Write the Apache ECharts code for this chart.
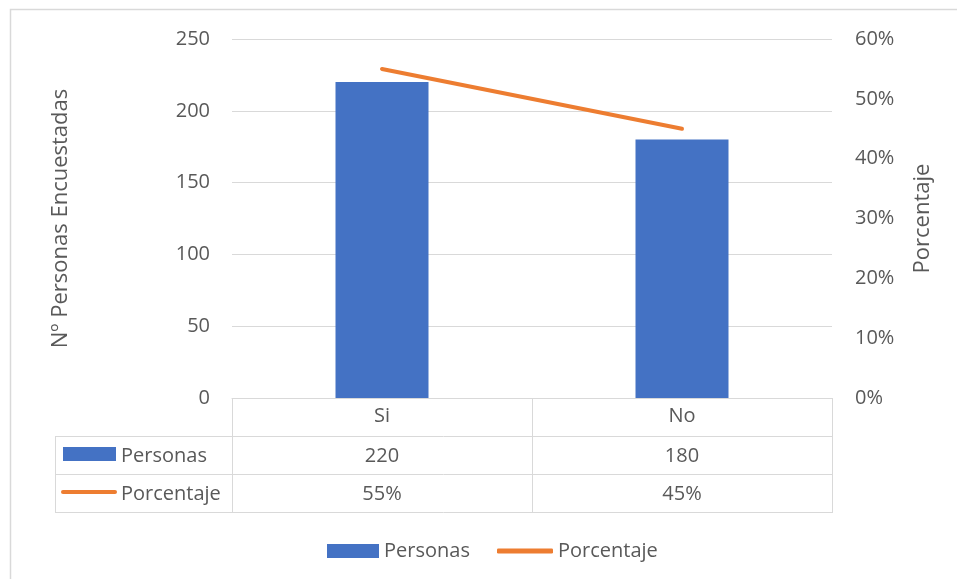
<!DOCTYPE html>
<html><head><meta charset="utf-8">
<script src="https://cdn.jsdelivr.net/npm/echarts@6/dist/echarts.min.js"></script>
<style>html,body{margin:0;padding:0;background:#fff}#c{width:957px;height:579px}</style>
</head><body><div id="c"></div>
<script>
var categories = ['Si', 'No'];
var personas = [220, 180];
var porcentaje = [0.55, 0.45];
var leftTicks = {min: 0, max: 250, interval: 50};
var rightTicks = {min: 0, max: 0.6, interval: 0.1};
var seriesNames = ['Personas', 'Porcentaje'];

var FONT = 'Open Sans';
var TXT = '#595959';
var GRID = '#d9d9d9';
var BLUE = '#4472C4';
var ORANGE = '#ED7D31';
var FS = 20;
var TFS = 22;

function pct(v){ return Math.round(v * 100) + '%'; }

var chart = echarts.init(document.getElementById('c'), null, {renderer: 'canvas'});
var gridL = 232, gridR = 832, gridT = 39, gridB = 398;
var option = {
  animation: false,
  textStyle: {fontFamily: FONT},
  grid: {left: gridL, right: 957 - gridR, top: gridT, bottom: 579 - gridB, containLabel: false},
  legend: [{
    data: [{name: seriesNames[0], icon: 'rect'}],
    left: 322, top: 536, itemWidth: 52, itemHeight: 14,
    textStyle: {color: TXT, fontSize: FS, fontFamily: FONT}
  }, {
    data: [{name: seriesNames[1], icon: 'roundRect', itemStyle: {color: ORANGE}}],
    left: 492, top: 536, itemWidth: 56, itemHeight: 5,
    textStyle: {color: TXT, fontSize: FS, fontFamily: FONT}
  }],
  xAxis: {
    type: 'category', data: categories,
    axisLine: {show: true, lineStyle: {color: GRID, width: 1}},
    axisTick: {show: false},
    axisLabel: {color: TXT, fontSize: FS, fontFamily: FONT, margin: 8},
    splitLine: {show: false}
  },
  yAxis: [{
    type: 'value', min: leftTicks.min, max: leftTicks.max, interval: leftTicks.interval,
    name: 'Nº Personas Encuestadas', nameLocation: 'middle', nameGap: 160, nameRotate: 90,
    nameTextStyle: {color: TXT, fontSize: TFS, fontFamily: FONT},
    axisLine: {show: false}, axisTick: {show: false},
    axisLabel: {color: TXT, fontSize: FS, fontFamily: FONT, margin: 22},
    splitLine: {show: true, lineStyle: {color: GRID, width: 1}}
  }, {
    type: 'value', min: rightTicks.min, max: rightTicks.max, interval: rightTicks.interval,
    name: 'Porcentaje', nameLocation: 'middle', nameGap: 80, nameRotate: 90,
    nameTextStyle: {color: TXT, fontSize: TFS, fontFamily: FONT},
    axisLine: {show: false}, axisTick: {show: false},
    axisLabel: {color: TXT, fontSize: FS, fontFamily: FONT, margin: 23, formatter: function(v){ return pct(v); }},
    splitLine: {show: false}
  }],
  series: [{
    name: seriesNames[0], type: 'bar', data: personas, barWidth: 93,
    itemStyle: {color: BLUE}
  }, {
    name: seriesNames[1], type: 'line', yAxisIndex: 1, data: porcentaje,
    symbol: 'none', showSymbol: false,
    lineStyle: {color: ORANGE, width: 4, cap: 'round'}, itemStyle: {color: ORANGE}
  }]
};
chart.setOption(option);

// data table below the axis
function buildTable(){
  var g = [];
  var row0 = gridB, row1 = 436, row2 = 474, row3 = 512, tableL = 55;
  var lineStyle = {stroke: GRID, lineWidth: 1};
  function hline(x1, x2, y){ g.push({type:'line', shape:{x1:x1, y1:y+0.5, x2:x2, y2:y+0.5}, style: lineStyle, silent:true}); }
  function vline(x, y1, y2){ g.push({type:'line', shape:{x1:x+0.5, y1:y1, x2:x+0.5, y2:y2}, style: lineStyle, silent:true}); }
  hline(tableL, gridR, row1); hline(tableL, gridR, row2); hline(tableL, gridR, row3);
  vline(tableL, row1, row3);
  var step = (gridR - gridL) / categories.length;
  for (var i = 0; i <= categories.length; i++) vline(gridL + step * i, row0, row3 + 1);
  categories.forEach(function(c, i){
    var x = chart.convertToPixel({xAxisIndex: 0}, c);
    g.push({type:'text', x: x, y: (row1 + row2) / 2 + 1, style:{text: String(personas[i]), fill: TXT, font: FS + 'px "' + FONT + '"', align:'center', verticalAlign:'middle'}});
    g.push({type:'text', x: x, y: (row2 + row3) / 2 + 1, style:{text: pct(porcentaje[i]), fill: TXT, font: FS + 'px "' + FONT + '"', align:'center', verticalAlign:'middle'}});
  });
  // row headers with keys
  g.push({type:'rect', shape:{x:63, y:447, width:53, height:14}, style:{fill: BLUE}});
  g.push({type:'text', x:121, y:(row1 + row2) / 2 + 1, style:{text: seriesNames[0], fill: TXT, font: FS + 'px "' + FONT + '"', align:'left', verticalAlign:'middle'}});
  g.push({type:'line', shape:{x1:63, y1:492, x2:115, y2:492}, style:{stroke: ORANGE, lineWidth: 4, lineCap: 'round'}});
  g.push({type:'text', x:121, y:(row2 + row3) / 2 + 1, style:{text: seriesNames[1], fill: TXT, font: FS + 'px "' + FONT + '"', align:'left', verticalAlign:'middle'}});
  // chart area border
  g.push({type:'rect', shape:{x:10.5, y:9.5, width:960, height:600}, style:{fill:'none', stroke: GRID, lineWidth: 1.5}, silent:true, z:-1});
  chart.setOption({graphic: g});
}
buildTable();
</script>
</body></html>
